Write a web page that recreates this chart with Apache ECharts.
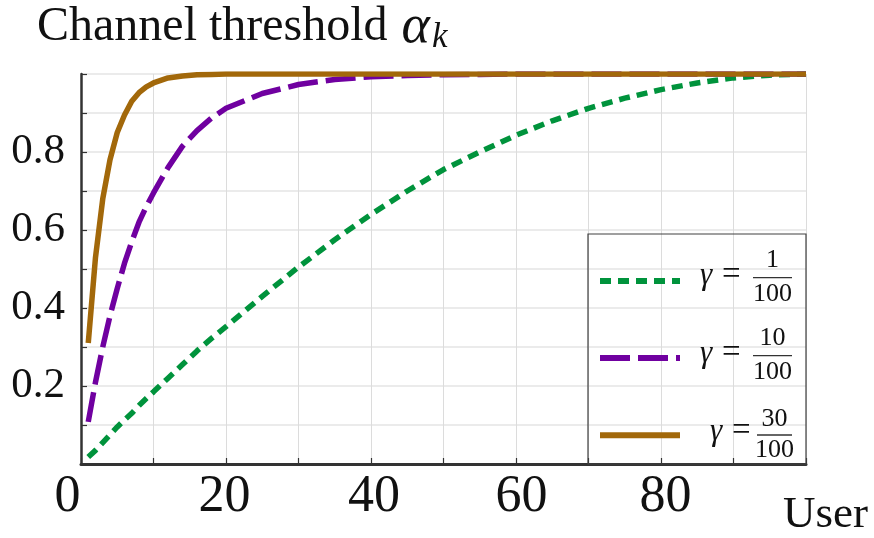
<!DOCTYPE html>
<html>
<head>
<meta charset="utf-8">
<script src="https://cdn.jsdelivr.net/npm/echarts@6/dist/echarts.min.js"></script>
<style>
html,body{margin:0;padding:0;background:#fff;}
#chart{width:874px;height:538px;}
</style>
</head>
<body>
<div id="chart"></div>
<script>
// ---- data ----
const users = [1,2,3,4,5,6,7,8,9,10,12,14,16,18,20,25,30,35,40,45,50,55,60,65,70,75,80,85,90,95,100];
const gamma1 = [0.018,0.035,0.055,0.075,0.095,0.113,0.13,0.15,0.168,0.185,0.22,0.255,0.29,0.322,0.352,0.43,0.505,0.575,0.64,0.70,0.755,0.80,0.843,0.88,0.912,0.938,0.96,0.977,0.99,0.997,1.0];
const gamma10 = [0.108,0.21,0.30,0.38,0.45,0.515,0.57,0.62,0.66,0.695,0.76,0.815,0.855,0.887,0.912,0.95,0.973,0.986,0.993,0.996,0.998,0.999,1.0,1.0,1.0,1.0,1.0,1.0,1.0,1.0,1.0];
const gamma30 = [0.31,0.53,0.68,0.78,0.85,0.895,0.93,0.952,0.967,0.977,0.99,0.995,0.998,0.999,1.0,1.0,1.0,1.0,1.0,1.0,1.0,1.0,1.0,1.0,1.0,1.0,1.0,1.0,1.0,1.0,1.0];
const seriesNames = ['g1','g10','g30'];
const numerators = ['1','10','30'];
const denominator = '100';
const xTickLabels = [0,20,40,60,80];
const yTickLabels = [0.2,0.4,0.6,0.8];

const FONT = '"Liberation Serif", "DejaVu Serif", serif';
const colors = ['#00933c','#7000a0','#a2680a'];
const dashes = [[11,7],[30,8],'solid'];

function pairs(ys){ return users.map((u,i)=>[u, ys[i]]); }

const chart = echarts.init(document.getElementById('chart'), null, {renderer:'canvas'});

// legend label graphics (gamma = fraction)
const legendRows = [
  {gx:700, eqY:275.5, num:260, bar:277.7, den:294, bx1:753, bx2:792},
  {gx:700, eqY:353.5, num:338, bar:355.7, den:372, bx1:753, bx2:792},
  {gx:710, eqY:431.5, num:419.5, bar:435, den:450, bx1:757, bx2:792}
];
const graphics = [
  {type:'rect', shape:{x:588, y:234, width:218, height:230}, style:{fill:'none', stroke:'#404040', lineWidth:1.2}, z:10},
  {type:'text', left:783, top:493, style:{text:'User', font:'45px '+FONT, fill:'#111'}, z:10}
];
legendRows.forEach((r,i)=>{
  const cx = (r.bx1 + r.bx2)/2;
  graphics.push({type:'text', x:r.gx, y:r.eqY, style:{text:'γ', font:'italic 31px '+FONT, fill:'#111', verticalAlign:'middle', align:'left'}, z:10});
  graphics.push({type:'text', x:r.gx+22, y:r.eqY, style:{text:'=', font:'33px '+FONT, fill:'#111', verticalAlign:'middle', align:'left'}, z:10});
  graphics.push({type:'text', x:cx, y:r.num, style:{text:numerators[i], font:'26px '+FONT, fill:'#111', verticalAlign:'middle', align:'center'}, z:10});
  graphics.push({type:'line', shape:{x1:r.bx1, y1:r.bar, x2:r.bx2, y2:r.bar}, style:{stroke:'#333', lineWidth:1.3}, z:10});
  graphics.push({type:'text', x:cx, y:r.den, style:{text:denominator, font:'26px '+FONT, fill:'#111', verticalAlign:'middle', align:'center'}, z:10});
});

const xRich = {
  l0:{fontFamily:FONT, fontSize:52, color:'#111', padding:[0,27,0,0]},
  l20:{fontFamily:FONT, fontSize:52, color:'#111', padding:[0,3,0,0]},
  l40:{fontFamily:FONT, fontSize:52, color:'#111', padding:[0,0,0,6]},
  l60:{fontFamily:FONT, fontSize:52, color:'#111', padding:[0,0,0,11]},
  l80:{fontFamily:FONT, fontSize:52, color:'#111', padding:[0,0,0,9]}
};

const option = {
  backgroundColor:'#fff',
  animation:false,
  title:{
    text:'{t|Channel threshold }{a|α}{k|k}',
    left:37, top:0, padding:0,
    textStyle:{
      fontWeight:'normal',
      rich:{
        t:{fontFamily:FONT, fontSize:48, fontWeight:'normal', color:'#111'},
        a:{fontFamily:FONT, fontSize:54, fontWeight:'normal', fontStyle:'italic', color:'#111', padding:[0,2,0,2]},
        k:{fontFamily:FONT, fontSize:35, fontWeight:'normal', fontStyle:'italic', color:'#111', padding:[20,0,0,0]}
      }
    }
  },
  grid:{left:81, right:68, top:74, bottom:74, containLabel:false},
  xAxis:{
    type:'value', min:0, max:100, interval:10,
    axisLine:{show:true, onZero:false, lineStyle:{color:'#333', width:3}},
    axisTick:{show:true, inside:true, length:6, lineStyle:{color:'#333', width:1.2}},
    splitLine:{show:true, lineStyle:{color:'#dcdcdc', width:1}},
    axisLabel:{
      margin:7, fontFamily:FONT, fontSize:52, color:'#111',
      formatter:function(v){
        if (xTickLabels.indexOf(v) < 0) return '';
        return '{l'+v+'|'+v+'}';
      },
      rich:xRich
    }
  },
  yAxis:{
    type:'value', min:0, max:1, interval:0.1,
    axisLine:{show:true, onZero:false, lineStyle:{color:'#333', width:2.5}},
    axisTick:{show:true, inside:true, length:6, lineStyle:{color:'#333', width:1.2}},
    splitLine:{show:true, lineStyle:{color:'#e4e4e4', width:1.6}},
    axisLabel:{
      margin:16, fontFamily:FONT, fontSize:43, color:'#111',
      formatter:function(v){
        const r = Math.round(v*10)/10;
        return yTickLabels.some(t=>Math.abs(t-r)<1e-9) ? r.toFixed(1) : '';
      }
    }
  },
  legend:{
    orient:'vertical', left:592, top:269,
    itemWidth:80, itemHeight:14, itemGap:64.5,
    selectedMode:false,
    formatter:function(){ return ''; },
    itemStyle:{opacity:0},
    lineStyle:{width:6},
    data:seriesNames.map((n,i)=>({
      name:n,
      itemStyle:{opacity:0, color:colors[i]},
      lineStyle:{width:6, color:colors[i], type:dashes[i], cap:'butt'}
    }))
  },
  graphic:graphics,
  series:[
    {name:seriesNames[0], type:'line', data:pairs(gamma1), symbol:'none', showSymbol:false, smooth:false,
     lineStyle:{color:colors[0], width:5.5, type:dashes[0], cap:'butt'}, itemStyle:{color:colors[0]}, z:2},
    {name:seriesNames[1], type:'line', data:pairs(gamma10), symbol:'none', showSymbol:false, smooth:false,
     lineStyle:{color:colors[1], width:5.5, type:dashes[1], cap:'butt'}, itemStyle:{color:colors[1]}, z:3},
    {name:seriesNames[2], type:'line', data:pairs(gamma30), symbol:'none', showSymbol:false, smooth:false,
     lineStyle:{color:colors[2], width:5.5, type:dashes[2], join:'round'}, itemStyle:{color:colors[2]}, z:4}
  ]
};
chart.setOption(option);
</script>
</body>
</html>
